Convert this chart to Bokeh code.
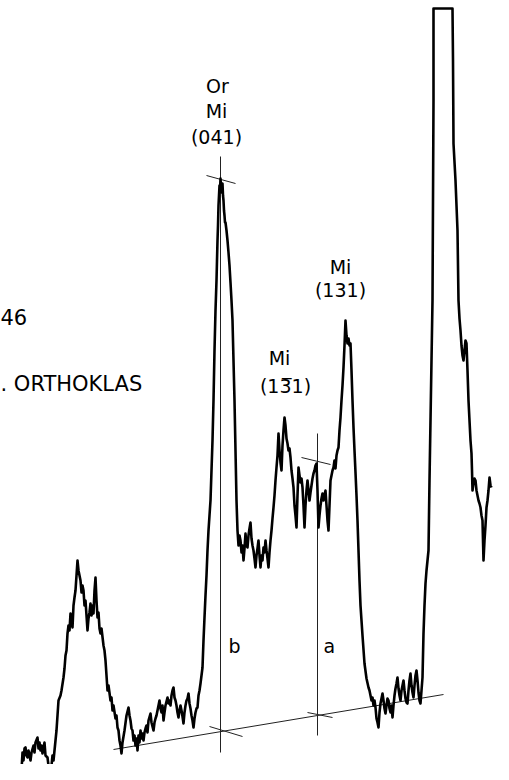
from bokeh.plotting import figure
from bokeh.models import Range1d, ColumnDataSource
from bokeh.core.properties import value
from bokeh.embed import file_html
from bokeh.resources import INLINE

# ---- diffraction trace (chart units: x position, intensity) ----
trace_x = [21, 22, 23, 24, 25, 26, 27, 28, 30, 31, 33, 34, 35, 37, 38, 39, 40, 41, 42, 43, 44, 45, 47, 48, 49, 50, 51, 52, 53, 55, 56,
           58, 60, 61, 63, 64, 65, 66, 67, 68, 69, 70, 71, 72, 73, 74, 75, 76, 77, 78, 79, 80, 81, 82, 83, 84, 85, 86, 87, 88, 89,
           90, 91, 92, 93, 94, 95, 96, 97, 98, 99, 100, 101, 103, 104, 105, 106, 107, 108, 110, 111, 112, 113, 115, 116, 117, 118, 119, 120, 121,
           122, 124, 126, 128, 129, 130, 131, 132, 133, 134, 135, 136, 137, 138, 139, 140, 141, 142, 143, 144, 145, 146, 147, 148, 150,
           151, 152, 153, 154, 155, 156, 157, 158, 159, 160, 161, 162, 163, 164, 165, 167, 168, 169, 170, 171, 172, 173, 174, 175, 176,
           177, 178, 179, 180, 181, 182, 183, 184, 185, 186, 187, 188, 189, 190, 191, 192, 193, 194, 195, 196, 197, 198, 199, 200, 201,
           202, 203, 204, 205, 206, 207,
           208, 209, 210, 211, 212, 213, 214, 215, 216, 216.5, 217, 217.5, 218, 218.5, 219, 219.5, 220, 220.5, 221, 221.5, 222, 222.5,
           223, 223.5, 224, 224.5, 225, 225.5, 226, 227, 228, 229, 230, 231, 232, 233, 234, 235, 236, 237,
           238, 239, 240, 241, 242, 243, 244, 245, 246, 247, 248, 249, 250, 251, 252, 253, 254, 255, 256, 257, 258, 259, 260, 261, 262,
           263, 264, 265, 266, 267, 268, 269, 270, 271, 272, 273, 274, 275, 276, 277, 278, 279, 280, 281, 282, 283, 284, 285, 286, 287,
           288, 289, 290, 291, 292, 293, 294, 295, 296, 297, 298, 299, 300, 301, 302, 303, 304, 305, 306, 307, 308, 309, 310, 311, 312,
           313, 314, 315, 316, 317, 318, 319, 320, 321, 322, 323, 324, 325, 326, 327, 328, 329, 330, 331, 332, 333, 334, 335, 336, 337,
           338, 339, 340, 341, 342, 343, 344, 345, 346, 347, 348, 349, 350, 351, 352, 353, 354, 355, 356, 357, 358, 359, 360, 362, 364,
           366, 368, 369, 370, 371, 372, 373, 374, 375, 376, 377, 378, 379, 380, 381, 382, 383, 384, 385, 386, 387, 388, 389, 390, 391,
           392, 393, 394, 395, 396, 397, 398, 399, 400, 401, 402, 403, 404, 405, 406, 407, 408, 409, 410, 411, 412, 413, 414, 415, 416,
           417, 418, 419, 420, 421, 422, 423, 424, 425, 426, 427, 428,
           429, 430, 431, 432, 432.5, 433, 433, 452, 452.5, 453, 455, 457, 458, 459, 460, 461, 462, 463, 464, 465, 466, 467, 468, 469,
           470, 471, 471.5, 472, 473, 474, 475, 476, 477, 478, 479, 480, 481, 482, 483, 484, 485, 486, 487, 488, 489, 490, 491]
trace_y = [10, 28, 20, 32, 33, 25, 23, 30, 20, 28, 35, 28, 38, 43, 32, 38, 30, 35, 27, 32, 38, 25, 23, 15, 2, 12, 15, 25, 20, 40, 50,
           80, 85, 90, 103, 112, 125, 130, 147, 155, 150, 167, 160, 153, 175, 183, 190, 205, 220, 210, 205, 200, 188, 195, 190, 175, 180, 165, 150, 162, 168,
           177, 165, 175, 167, 190, 203, 180, 163, 168, 152, 147, 152, 135, 130, 120, 105, 90, 95, 80, 83, 70, 75, 62, 65, 53, 50, 40, 35, 27,
           38, 50, 65, 73, 65, 60, 52, 50, 40, 45, 35, 42, 30, 45, 38, 50, 42, 47, 40, 48, 52, 55, 48, 60, 67,
           58, 54, 50, 58, 62, 65, 70, 75, 80, 72, 68, 75, 60, 68, 75, 83, 77, 80, 75, 85, 90, 93, 83, 80, 75,
           68, 63, 70, 75, 70, 64, 57, 68, 75, 80, 82, 87, 77, 72, 65, 60, 53, 62, 68, 72, 73, 85, 90, 97, 105,
           113, 140, 163, 185, 205, 230,
           250, 265, 280, 310, 340, 380, 430, 470, 500, 520, 540, 555, 575, 585, 595, 590, 602, 595, 588, 594, 597, 585,
           580, 570, 565, 558, 558, 554, 550, 540, 528, 515, 498, 480, 460, 420, 380, 330, 280, 250,
           235, 245, 240, 228, 235, 220, 232, 247, 235, 233, 245, 252, 258, 242, 235, 230, 222, 213, 225, 232, 240, 225, 213, 225, 220,
           233, 228, 240, 230, 222, 213, 228, 240, 250, 262, 273, 285, 300, 313, 325, 347, 330, 318, 310, 335, 350, 363, 355, 342, 337,
           330, 332, 323, 310, 302, 293, 275, 265, 253, 285, 313, 305, 298, 302, 293, 275, 253, 275, 290, 300, 290, 280, 288, 295, 302,
           307, 310, 315, 317, 290, 253, 265, 275, 282, 287, 280, 285, 290, 275, 260, 250, 275, 300, 305, 310, 313, 320, 312, 325, 330,
           333, 350, 363, 380, 395, 413, 435, 460, 445, 437, 442, 435, 437, 410, 380, 353, 330, 308, 285, 260, 230, 200, 175, 145, 117,
           102, 93, 90, 85, 80, 83, 75, 80, 73, 62, 58, 53, 68, 77, 82, 87, 80, 72, 67, 75, 82, 80, 72, 68, 75,
           63, 75, 85, 92, 97, 103, 92, 85, 80, 90, 95, 100, 90, 82, 78, 77, 90, 100, 107, 95, 88, 83, 95, 105, 110,
           100, 88, 80, 77, 90, 103, 147, 175, 197, 210, 220, 230,
           300, 360, 420, 480, 580, 680, 772, 772, 720, 637, 600, 550, 480, 462, 450, 435, 425, 420, 430, 440, 437, 410, 380, 360,
           340, 327, 310, 290, 298, 302, 300, 290, 285, 280, 277, 273, 265, 260, 220, 240, 255, 273, 280, 290, 303, 295, 293]

# ---- construction lines ----
baseline_x = [113, 443]
baseline_y = [31, 86]
line_b_x = [220, 220]
line_b_y = [28, 624]
line_a_x = [317, 317]
line_a_y = [45, 347]
tick_b_top_x = [206, 235]
tick_b_top_y = [605, 597]
tick_a_top_x = [301, 330]
tick_a_top_y = [323, 316]
cross_b_x = [209, 242]
cross_b_y = [54, 44]
cross_a_x = [307, 332]
cross_a_y = [68, 63]

# ---- labels ----
peak_labels = ["Or", "Mi", "(041)", "Mi", "(131)", "Mi", "(13\u03051)"]
peak_label_x = [217, 216, 216, 340, 340, 279, 285]
peak_label_y = [695, 670, 644, 514, 491, 423, 395]
side_labels = ["b", "a"]
side_label_x = [228, 323]
side_label_y = [135, 135]
note_labels = ["46", ". ORTHOKLAS"]
note_label_x = [0, 0]
note_label_y = [464, 397]

p = figure(width=493, height=764, output_backend="svg", toolbar_location=None,
           x_range=Range1d(0, 493), y_range=Range1d(16, 780),
           x_axis_type=None, y_axis_type=None, min_border=0)
p.outline_line_color = None
p.xgrid.visible = False
p.ygrid.visible = False
p.background_fill_color = "white"

thin = dict(line_color="#222222", line_width=1)
p.line(baseline_x, baseline_y, **thin)
p.line(line_b_x, line_b_y, **thin)
p.line(line_a_x, line_a_y, **thin)
p.line(tick_b_top_x, tick_b_top_y, **thin)
p.line(tick_a_top_x, tick_a_top_y, **thin)
p.line(cross_b_x, cross_b_y, **thin)
p.line(cross_a_x, cross_a_y, **thin)

p.line(trace_x, trace_y, line_color="black", line_width=2.6, line_join="round")

src = ColumnDataSource(dict(x=peak_label_x, y=peak_label_y, t=peak_labels))
p.text(x="x", y="y", text="t", source=src, text_align="center", text_baseline="middle",
       text_font=value("DejaVu Sans"), text_font_size="19px", text_color="black")

src_ab = ColumnDataSource(dict(x=side_label_x, y=side_label_y, t=side_labels))
p.text(x="x", y="y", text="t", source=src_ab, text_align="left", text_baseline="alphabetic",
       text_font=value("DejaVu Sans"), text_font_size="19px", text_color="black")

src2 = ColumnDataSource(dict(x=note_label_x, y=note_label_y, t=note_labels))
p.text(x="x", y="y", text="t", source=src2, text_align="left", text_baseline="middle",
       text_font=value("DejaVu Sans"), text_font_size="21px", text_color="black")

open("out.html", "w").write(file_html(p, INLINE))
